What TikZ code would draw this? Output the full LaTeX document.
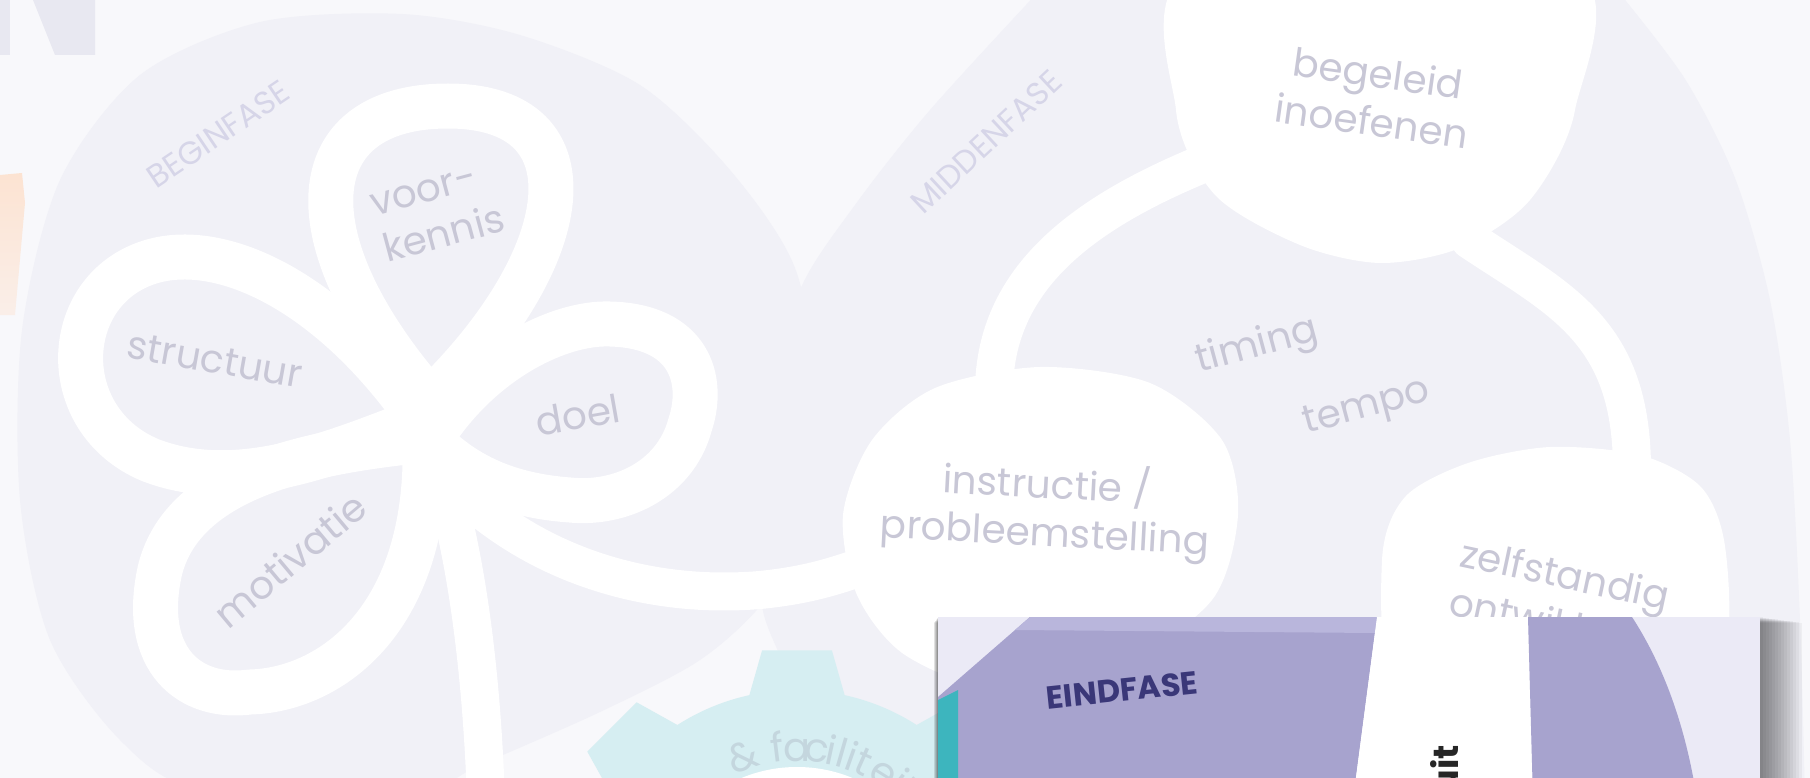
\documentclass[tikz,border=0pt]{standalone}
\usepackage{fontspec}
\setmainfont{Poppins}
\definecolor{pagebg}{RGB}{248,248,251}
\definecolor{blobfill}{RGB}{241,241,247}
\definecolor{lblgray}{RGB}{200,199,214}
\definecolor{phasegray}{RGB}{214,213,232}
\definecolor{ghostN}{RGB}{232,232,241}
\definecolor{peach}{RGB}{252,227,210}
\definecolor{geartint}{RGB}{214,238,242}
\definecolor{geartext}{RGB}{196,214,222}
\definecolor{eindpurple}{RGB}{167,163,206}
\definecolor{eindlight}{RGB}{235,234,246}
\definecolor{eindband}{RGB}{185,182,220}
\definecolor{eindteal}{RGB}{61,181,190}
\definecolor{eindnavy}{RGB}{58,55,120}
\newcommand{\lblfont}{\fontsize{39}{48}\selectfont}
\newcommand{\phasefont}{\fontsize{32}{36}\selectfont}
\tikzset{
  lbl/.style={text=lblgray, font=\lblfont, align=center, inner sep=0pt},
  phase/.style={text=phasegray, font=\phasefont, inner sep=0pt},
  geartxt/.style={text=geartext, font=\fontsize{40}{44}\selectfont, inner sep=0pt, anchor=base},
  band/.style={draw=white, line width=38pt, line cap=round},
  petal/.style={draw=white, line width=45pt, line join=round},
  blob/.style={fill=blobfill}
}

\begin{document}
\begin{tikzpicture}[x=1pt,y=-1pt]
  \useasboundingbox (0,0) rectangle (1810,778);
  \clip (0,0) rectangle (1810,778);
  \fill[pagebg] (0,0) rectangle (1810,778);
  \fill[ghostN] (0,0) -- (10,0) -- (10,55) -- (0,55) -- cycle;
  \fill[ghostN] (33,0) -- (95,0) -- (95,55) -- (55,55) -- cycle;
  \shade[top color=peach, bottom color=peach!45!pagebg] (0,175) -- (22,173) -- (25,203) -- (15,315) -- (0,315) -- cycle;

  % phase blobs
  \fill[blob] (1040,-10) -- (1617,-10) -- plot[smooth] coordinates {(1617,-10) (1685,79) (1735,178) (1770,300) (1790,440) (1800,620) (1805,800)}
    -- (830,800) -- plot[smooth] coordinates {(830,800) (790,680) (762,605) (772,520) (775,400) (800,290) (855,205) (930,110) (1040,-10)} -- cycle;
  \fill[blob] plot[smooth cycle] coordinates {(402,14) (520,35) (640,85) (730,170) (795,268) (818,400) (805,520) (765,600) (700,660) (600,712) (480,765) (400,800) (200,790) (120,740) (50,640) (20,500) (22,330) (60,180) (140,75) (260,22)};

  % connectors
  \coordinate (heart) at (440,470);
  \draw[band] (heart) .. controls (520,560) and (640,600) .. (760,590) .. controls (810,585) and (840,575) .. (880,560);
  \draw[band] (heart) .. controls (468,560) and (482,680) .. (486,800);
  \draw[band] (1200,165) .. controls (1080,215) and (995,280) .. (994,390);
  \draw[band] (1470,240) .. controls (1560,300) and (1632,330) .. (1632,470);

  % white steps of the middle phase
  \fill[white] plot[smooth cycle] coordinates {(1195,-30) (1176,110) (1215,195) (1300,245) (1380,263) (1460,248) (1530,200) (1575,110) (1570,-30)};
  \fill[white] plot[smooth cycle] coordinates {(843,515) (872,440) (935,388) (1040,367) (1150,383) (1222,440) (1238,515) (1212,600) (1120,665) (1000,690) (905,655) (857,595)};
  \fill[white] plot[smooth cycle] coordinates {(1382,560) (1405,497) (1468,463) (1550,447) (1640,455) (1700,486) (1724,540) (1728,640) (1700,760) (1500,790) (1395,700)};

  % flower
  \draw[petal] (430,400) .. controls (290,240) and (300,106) .. (448,106) .. controls (600,106) and (575,260) .. cycle;
  \draw[petal] (420,420) .. controls (330,290) and (220,240) .. (150,262) .. controls (60,290) and (55,420) .. (150,460) .. controls (240,495) and (340,450) .. cycle;
  \draw[petal] (430,440) .. controls (480,360) and (560,322) .. (610,324) .. controls (690,326) and (705,380) .. (690,425) .. controls (675,480) and (620,505) .. (570,500) .. controls (500,495) and (460,470) .. cycle;
  \draw[petal] (425,440) .. controls (330,450) and (185,470) .. (160,570) .. controls (140,660) and (190,700) .. (250,692) .. controls (330,690) and (430,620) .. cycle;

  \node[phase, rotate=34] (beginfase) at (218,134) {BEGINFASE};
  \node[lbl, align=left, rotate=15] (voorkennis) at (438,213) {voor-\\kennis};
  \node[lbl, rotate=-10] (structuur) at (215,360) {structuur};
  \node[lbl, rotate=10] (doel) at (578,415) {doel};
  \node[lbl, rotate=40] (motivatie) at (290,560) {motivatie};

  \node[phase, rotate=43] (middenfase) at (986,142) {MIDDENFASE};
  \node[lbl, rotate=-8] (begeleid) at (1375,97) {begeleid\\inoefenen};
  \node[lbl, rotate=15] (timing) at (1257,347) {timing};
  \node[lbl, rotate=15] (tempo) at (1367,409) {tempo};
  \node[lbl, rotate=-3] (instructie) at (1046,509) {instructie /\\probleemstelling};
  \node[lbl, anchor=base west, rotate=-12] (zelfstandig) at (1458,566) {zelfstandig};
  \node[lbl, anchor=base west, rotate=-12] (ontwikkelen) at (1447,614) {ontwikkelen};

  % gear
  \begin{scope}[shift={(797,912)}]
    \fill[geartint] (0,0) circle (222);
    \foreach \a in {0,45,...,315}
      \fill[geartint] (\a-12.4:222) -- (\a-7.6:264) -- (\a+7.6:264) -- (\a+12.4:222) -- cycle;
    \fill[white] (0,0) circle (145);
    \foreach \c/\a in {\&/251,f/263,a/270,c/277,i/282,l/286,i/289.5,t/294,e/302,i/308,t/312,e/319,n/327}
      \node[geartxt, rotate=-\a-90] (gear\a) at (\a:151) {\c};
  \end{scope}

  % end phase card
  \foreach \k in {1,...,14}
    \fill[black, opacity=0.04] (938-\k*0.3,617-\k*0.6+\k) rectangle (1760+\k*3,800);
  \fill[eindlight] (938,617) rectangle (1760,800);
  \fill[eindpurple] (938,697) -- (1030,617) -- (1377,617) -- (1353,800) -- (938,800) -- cycle;
  \fill[eindband] (1030,617) -- (1377,617) -- (1375,633) -- (1015,630) -- cycle;
  \fill[eindteal] (938,700) -- (958,690) -- (958,800) -- (938,800) -- cycle;
  \fill[white] (1377,617) -- (1528,617) -- (1533,800) -- (1353,800) -- cycle;
  \fill[eindpurple] (1528,617) -- (1632,617) .. controls (1660,660) and (1685,720) .. (1697,800) -- (1533,800) -- cycle;
  \node[rotate=6, font=\fontsize{32}{36}\selectfont\bfseries, text=eindnavy, inner sep=0pt] (eindfase) at (1122,690) {EINDFASE};
  \node[rotate=90, anchor=base east, font=\fontsize{35}{40}\selectfont\bfseries, text=black!85, inner sep=0pt] (uit) at (1458,745) {uit};
\end{tikzpicture}
\end{document}
